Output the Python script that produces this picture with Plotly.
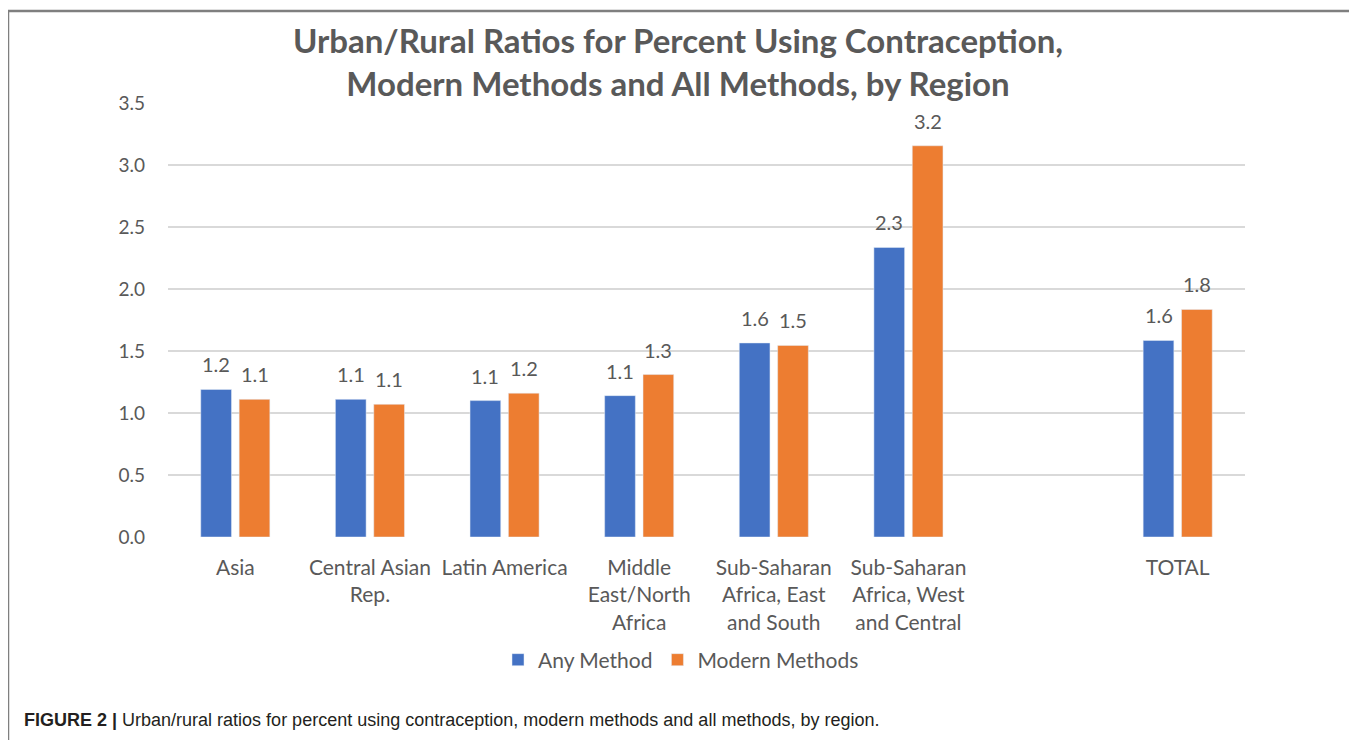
import plotly.graph_objects as go

categories = ["Asia", "Central Asian<br>Rep.", "Latin America", "Middle<br>East/North<br>Africa",
              "Sub-Saharan<br>Africa, East<br>and South", "Sub-Saharan<br>Africa, West<br>and Central",
              " ", "TOTAL"]
any_method = [1.19, 1.11, 1.10, 1.14, 1.565, 2.335, None, 1.585]
modern_methods = [1.11, 1.07, 1.16, 1.31, 1.545, 3.155, None, 1.835]
y_ticks = [0.0, 0.5, 1.0, 1.5, 2.0, 2.5, 3.0, 3.5]

BLUE = "#4472C4"
ORANGE = "#ED7D31"
GRAY_TXT = "#595959"
FONT = "Lato, 'Open Sans', sans-serif"

BARGAP = 0.43
GROUPGAP = 0.2

# figure is placed at an 8px page offset
W, H = 1349, 732
L, R, T, B = 160, 112, 95, 203
PW, PH = W - L - R, H - T - B

fig = go.Figure()
fig.add_trace(go.Bar(x=categories, y=any_method, name="Any Method", marker_color=BLUE))
fig.add_trace(go.Bar(x=categories, y=modern_methods, name="Modern Methods", marker_color=ORANGE))

# value labels above bars
half_slot = (1 - BARGAP) / 4
for series, sign in ((any_method, -1), (modern_methods, 1)):
    for i, v in enumerate(series):
        if v is None:
            continue
        fig.add_annotation(
            x=i + sign * half_slot, y=v, xref="x", yref="y",
            text=f"{v:.1f}", showarrow=False, yanchor="bottom", yshift=11,
            font=dict(size=20, color=GRAY_TXT, family=FONT),
        )

fig.update_layout(
    width=W, height=H,
    margin=dict(l=L, r=R, t=T, b=B),
    paper_bgcolor="white", plot_bgcolor="white",
    barmode="group", bargap=BARGAP, bargroupgap=GROUPGAP,
    font=dict(family=FONT, color=GRAY_TXT, size=18),
    title=dict(
        text="Urban/Rural Ratios for Percent Using Contraception,<br>Modern Methods and All Methods, by Region",
        x=670 / W, xref="container", xanchor="center",
        y=1 - 45 / H, yref="container", yanchor="middle",
        font=dict(family=FONT, size=33, color=GRAY_TXT, weight="bold"),
    ),
    showlegend=True,
    legend=dict(
        orientation="h", x=(673 - L) / PW, xanchor="center",
        y=(T + PH - 652) / PH, yanchor="middle",
        font=dict(size=21, color=GRAY_TXT, family=FONT),
        itemwidth=30, traceorder="normal",
    ),
    xaxis=dict(
        type="category", categoryorder="array", categoryarray=categories,
        showgrid=False, showline=False, zeroline=False, ticks="",
        tickfont=dict(size=21, color=GRAY_TXT, family=FONT),
        ticklabelstandoff=16,
    ),
    yaxis=dict(
        range=[0, 3.5], tickvals=y_ticks, ticktext=[f"{v:.1f}" for v in y_ticks],
        showgrid=True, gridcolor="#D9D9D9", gridwidth=2,
        zeroline=False, showline=False, ticks="",
        tickfont=dict(size=19, color=GRAY_TXT, family=FONT),
        ticklabelstandoff=22,
    ),
)

# frame around the chart
frame = dict(type="line", xref="paper", yref="paper", line=dict(color="#7F7F7F", width=2.5))
xl, xr = (0 - L) / PW, (1347 - L) / PW
yt, yb = (T + PH - 3) / PH, (T + PH - 760) / PH
fig.add_shape(x0=xl, x1=xr, y0=yt, y1=yt, **frame)
fig.add_shape(x0=xl, x1=xl, y0=yt, y1=yb, **frame)
fig.add_shape(x0=xr, x1=xr, y0=yt, y1=yb, **frame)

fig.add_annotation(
    text="<b>FIGURE 2 |</b> Urban/rural ratios for percent using contraception, modern methods and all methods, by region.",
    xref="paper", yref="paper", x=(14 - L) / PW, y=(T + PH - 712) / PH,
    xanchor="left", yanchor="middle", showarrow=False,
    font=dict(family="'Liberation Sans', Arial, sans-serif", size=18, color="#231F20"),
)

fig.write_html("out.html")
